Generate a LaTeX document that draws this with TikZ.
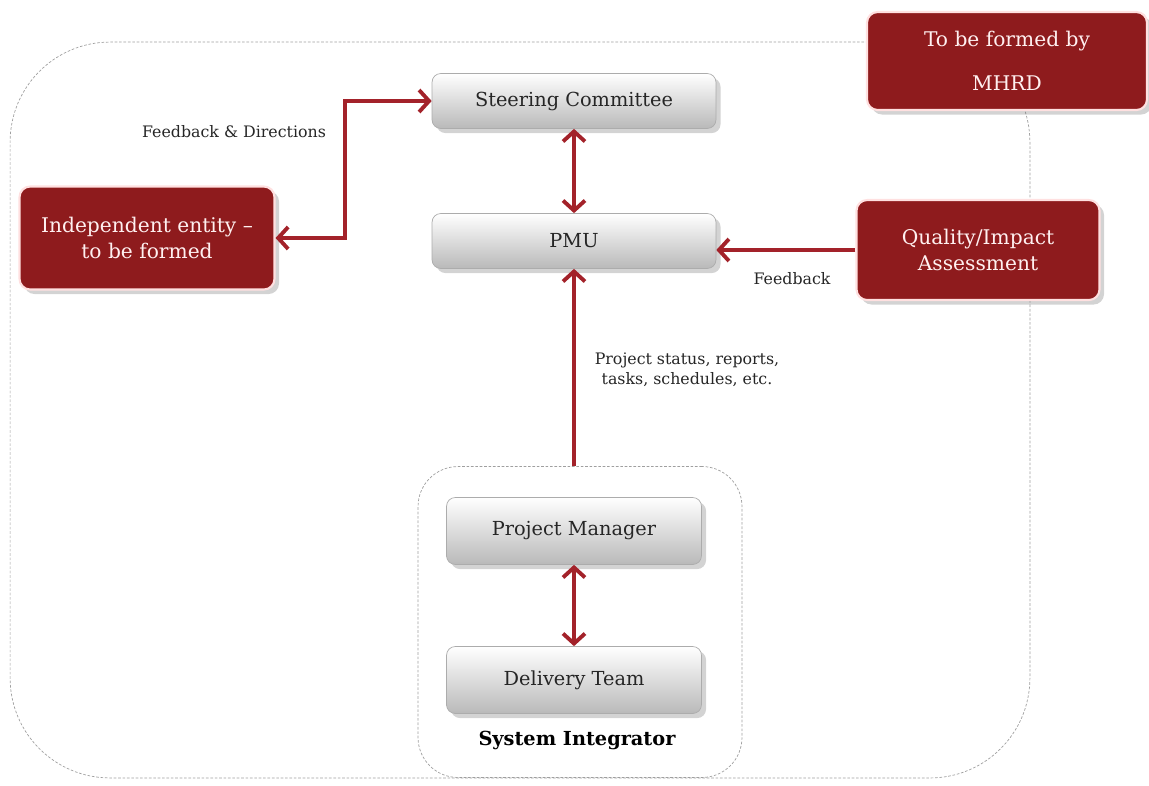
\documentclass[tikz,border=0pt]{standalone}
\usepackage{fontspec}
\setmainfont{DejaVu Serif}
\usepackage{xcolor}
\usepackage{tikz}
\usetikzlibrary{positioning, arrows.meta, shadows}

\definecolor{boxred}{HTML}{8E1B1D}
\definecolor{arrred}{HTML}{A3222A}

\begin{document}
\begin{tikzpicture}[
    x=0.02cm, y=-0.02cm,
    graybox/.style={rectangle, draw=gray!65, rounded corners=5pt, top color=white, bottom color=gray!55, minimum width=5.68cm, minimum height=1.1cm, align=center, font=\fontsize{11}{13}\selectfont, text=black!85, drop shadow={opacity=0.35}},
    redbox/.style={rectangle, draw=red!12, line width=1.2pt, rounded corners=6pt, fill=boxred, align=center, font=\fontsize{11.5}{15}\selectfont, text=red!6, drop shadow={opacity=0.35}},
    frame/.style={draw=gray!75, dash pattern=on 1.5pt off 1pt, thin},
    arr/.style={draw=arrred, line width=2.2pt, -{Straight Barb[length=2mm, width=4.4mm, line width=2.2pt]}},
    darr/.style={arr, {Straight Barb[length=2mm, width=4.4mm, line width=2.2pt]}-{Straight Barb[length=2mm, width=4.4mm, line width=2.2pt]}},
    lbl/.style={font=\fontsize{9}{11.5}\selectfont, text=black!85, align=center}
]
\useasboundingbox (0,0) rectangle (1149,785);

% outer frame and system integrator frame
\node[frame, rounded corners=2cm, minimum width=20.4cm, minimum height=14.72cm] (outer) at (520,410) {};
\node[frame, rounded corners=0.8cm, minimum width=6.48cm, minimum height=6.22cm] (si) at (580,622) {};

\node[graybox] (steer) at (574,101) {Steering Committee};
\node[graybox] (pmu) at (574,241) {PMU};
\node[graybox, minimum width=5.1cm, minimum height=1.34cm] (pm) at (574,531) {Project Manager};
\node[graybox, minimum width=5.1cm, minimum height=1.34cm] (dt) at (574,680) {Delivery Team};
\node[font=\bfseries\fontsize{11}{13}\selectfont] (sitxt) at (577,740) {System Integrator};

\node[redbox, minimum width=5.1cm, minimum height=2.06cm] (indep) at (147,238) {Independent entity --\\to be formed};
\node[redbox, minimum width=5.6cm, minimum height=1.96cm, font=\fontsize{11.5}{25}\selectfont] (mhrd) at (1007,61) {To be formed by\\MHRD};
\node[redbox, minimum width=4.86cm, minimum height=2.0cm] (qual) at (978,250) {Quality/Impact\\Assessment};

\draw[darr] (steer.south) -- (pmu.north);
\draw[darr] (pm.south) -- (dt.north);
\draw[arr] (pmu.south |- si.north) -- (pmu.south);
\draw[arr] (qual.west) -- (pmu.east |- qual.west);
\draw[darr] (steer.west) -| (345,238) -- (indep.east);

\node[lbl] (fdlbl) at (234,132) {Feedback \& Directions};
\node[lbl] (fblbl) at (792,279) {Feedback};
\node[lbl] (stlbl) at (687,370) {Project status, reports,\\tasks, schedules, etc.};

\end{tikzpicture}
\end{document}
